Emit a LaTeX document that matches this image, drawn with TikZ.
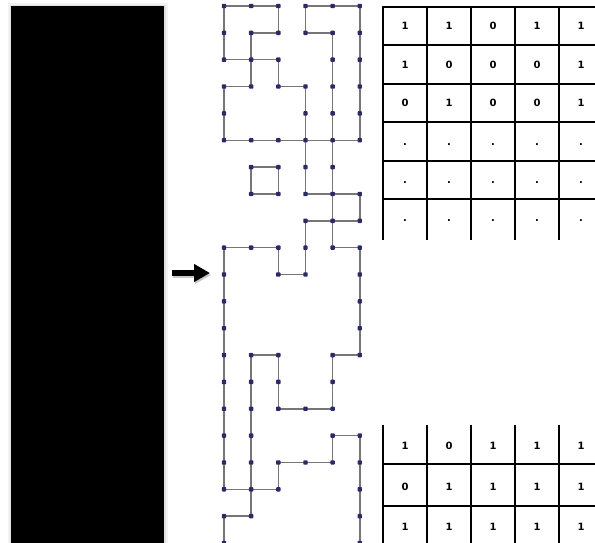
\documentclass[tikz,border=0pt]{standalone}
\usepackage{fontspec}
\setsansfont{DejaVu Sans}
\usetikzlibrary{arrows.meta}
\definecolor{edgegray}{HTML}{767676}
\definecolor{dotnavy}{HTML}{2A2A66}
\begin{document}
\begin{tikzpicture}[x=1pt,y=-1pt,
  edge/.style={draw=edgegray, line width=1.5pt},
  gdot/.style={rectangle, fill=dotnavy, minimum size=4.4pt, inner sep=0pt, outer sep=0pt, rounded corners=0.8pt},
  tline/.style={line width=2.2pt, draw=black},
  cell/.style={font=\sffamily\bfseries\fontsize{10}{11}\selectfont, inner sep=0pt, text height=7.3pt, text depth=0pt},
  panel/.style={rectangle, fill=black, inner sep=0pt, outer sep=0pt, anchor=north west}]
\useasboundingbox (0,0) rectangle (595,543);
\fill[white] (0,0) rectangle (595,543);

% black panel with a soft shadow
\fill[black!5] (8,3) rectangle (167.5,543);
\fill[black!12] (9.6,4.6) rectangle (165.6,543);
\node[panel, minimum width=153pt, minimum height=537pt] (panel) at (11,6) {};

% arrow
\coordinate (arrS) at (172,273);
\coordinate (arrE) at (210,273);
\draw[line width=6pt, black!35, opacity=0.6, -{Triangle[length=16pt,width=17pt]}]
  ([shift={(1,2)}]arrS) -- ([shift={(1,2)}]arrE);
\draw[line width=6pt, black, -{Triangle[length=16pt,width=17pt]}] (arrS) -- (arrE);

% grid coordinates
\foreach \c in {0,...,5}
  \foreach \r in {0,...,20}
    \coordinate (g-\c-\r) at ({224+27.15*\c},{6+26.85*\r});

% horizontal edges (c,r)-(c+1,r)
\foreach \c/\r in {0/0,1/0,3/0,4/0, 1/1,3/1, 0/2,1/2, 0/3,2/3,
  0/5,1/5,2/5,3/5,4/5, 1/6, 1/7,3/7,4/7, 3/8,4/8, 0/9,1/9,4/9,
  2/10, 1/13,4/13, 2/15,3/15, 4/16, 2/17,3/17, 0/18,1/18, 0/19}
{
  \pgfmathtruncatemacro{\cn}{\c+1}
  \draw[edge] (g-\c-\r) -- (g-\cn-\r);
}

% vertical edges (c,r)-(c,r+1)
\foreach \c/\r in {0/0,0/1,0/3,0/4,0/9,0/10,0/11,0/12,0/13,0/14,0/15,0/16,0/17,0/19,
  1/1,1/2,1/6,1/13,1/14,1/15,1/16,1/17,1/18,
  2/0,2/2,2/6,2/9,2/13,2/14,2/17,
  3/0,3/3,3/4,3/5,3/6,3/8,3/9,
  4/1,4/2,4/3,4/4,4/5,4/6,4/7,4/8,4/13,4/14,4/16,
  5/0,5/1,5/2,5/3,5/4,5/7,5/9,5/10,5/11,5/12,5/16,5/17,5/18,5/19}
{
  \pgfmathtruncatemacro{\rn}{\r+1}
  \draw[edge] (g-\c-\r) -- (g-\c-\rn);
}

% dots
\foreach \r/\cs in {0/{0,1,2,3,4,5}, 1/{0,1,2,3,4,5}, 2/{0,1,2,4,5}, 3/{0,1,2,3,4,5},
  4/{0,3,4,5}, 5/{0,1,2,3,4,5}, 6/{1,2,3,4}, 7/{1,2,3,4,5}, 8/{3,4,5},
  9/{0,1,2,3,4,5}, 10/{0,2,3,5}, 11/{0,5}, 12/{0,5}, 13/{0,1,2,4,5},
  14/{0,1,2,4}, 15/{0,1,2,3,4}, 16/{0,1,4,5}, 17/{0,1,2,3,4,5},
  18/{0,1,2,5}, 19/{0,1,5}, 20/{0,5}}
{
  \foreach \c in \cs
    \node[gdot] (d-\c-\r) at (g-\c-\r) {};
}

% top table
\foreach \x in {383,427,471,515,559}
  \draw[tline] (\x,7) -- (\x,240);
\draw[tline] (381.9,7) -- (595,7);
\foreach \y in {45.4,83.8,122.2,160.6,199}
  \draw[tline] (383,\y) -- (595,\y);
\foreach \row [count=\i] in {{1,1,0,1,1},{1,0,0,0,1},{0,1,0,0,1},{.,.,.,.,.},{.,.,.,.,.},{.,.,.,.,.}}
{
  \foreach \v [count=\j] in \row
    \node[cell] (t-\i-\j) at ({361+44*\j},{-12.2+38.4*\i}) {\v};
}

% bottom table
\foreach \x in {383,427,471,515,559}
  \draw[tline] (\x,425) -- (\x,543);
\foreach \y in {464,506}
  \draw[tline] (383,\y) -- (595,\y);
\foreach \row [count=\i] in {{1,0,1,1,1},{0,1,1,1,1},{1,1,1,1,1}}
{
  \foreach \v [count=\j] in \row
    \node[cell] (b-\i-\j) at ({361+44*\j},{405.5+40.5*\i}) {\v};
}
\end{tikzpicture}
\end{document}
